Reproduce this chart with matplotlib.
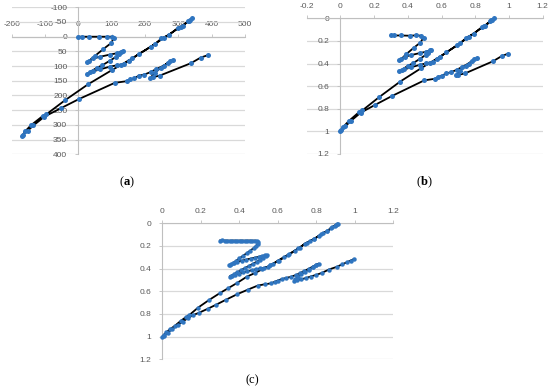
import matplotlib
matplotlib.use('Agg')
import matplotlib.pyplot as plt

plt.rcParams['mathtext.fontset'] = 'custom'
plt.rcParams['mathtext.rm'] = 'Liberation Serif'
plt.rcParams['mathtext.bf'] = 'Liberation Serif:bold'

# ---------------- (a) raw trajectory ----------------
a_x = [0, 10, 33, 61, 85, 100, 106, 98, 75, 50, 32, 25,
       45, 66, 94, 117, 128, 133,
       122, 114, 94, 72, 55, 35, 27,
       44, 66, 94, 117, 138, 151,
       183, 229, 249, 273, 300, 313, 328, 335, 341,
       332, 307, 257, 217, 161, 128, 100, 29, -41, -96, -106, -142, -159, -169,
       -166, -152, -135, -102, -52, 2, 109, 147, 156, 167, 182, 198, 217, 234, 257, 276, 284,
       268, 248, 230, 216,
       223, 245, 338, 367, 388]
a_y = [0, 0, 0, 0, 0, 0, 6, 22, 42, 65, 82, 87,
       74, 68, 61, 56, 51, 49,
       60, 68, 82, 97, 106, 120, 126,
       118, 111, 102, 97, 92, 82,
       58, 26, 6, -7, -31, -35, -52, -57, -63,
       -55, -34, 4, 34, 74, 96, 114, 162, 217, 264, 269, 301, 321, 338,
       334, 320, 302, 272, 243, 212, 157, 151, 145, 142, 132, 129, 120, 110, 98, 82, 80,
       90, 105, 122, 140,
       138, 132, 90, 71, 63]

# ---------------- (b) normalised trajectory ----------------
b_x = [0.300, 0.318, 0.358, 0.411, 0.450, 0.480, 0.493, 0.474, 0.434, 0.390, 0.360, 0.346,
       0.383, 0.420, 0.470, 0.510, 0.530, 0.540,
       0.520, 0.505, 0.470, 0.430, 0.400, 0.365, 0.350,
       0.380, 0.420, 0.470, 0.510, 0.548, 0.572,
       0.629, 0.711, 0.747, 0.790, 0.837, 0.860, 0.888, 0.900, 0.910,
       0.895, 0.850, 0.760, 0.690, 0.590, 0.530, 0.480, 0.354, 0.228, 0.130, 0.112, 0.049, 0.018, 0.000,
       0.006, 0.030, 0.060, 0.120, 0.208, 0.306, 0.497, 0.564, 0.580, 0.600, 0.627, 0.655, 0.690, 0.720, 0.760, 0.795, 0.808,
       0.780, 0.745, 0.712, 0.688,
       0.700, 0.740, 0.905, 0.957, 0.994]
b_y = [0.150, 0.152, 0.152, 0.154, 0.151, 0.154, 0.172, 0.215, 0.262, 0.318, 0.362, 0.372,
       0.340, 0.325, 0.308, 0.295, 0.283, 0.278,
       0.305, 0.325, 0.360, 0.398, 0.420, 0.455, 0.470,
       0.452, 0.433, 0.412, 0.398, 0.385, 0.360,
       0.301, 0.221, 0.171, 0.139, 0.080, 0.070, 0.027, 0.015, 0.000,
       0.018, 0.072, 0.165, 0.240, 0.340, 0.395, 0.440, 0.560, 0.699, 0.815, 0.828, 0.909, 0.959, 1.000,
       0.990, 0.955, 0.910, 0.835, 0.764, 0.687, 0.549, 0.534, 0.518, 0.510, 0.487, 0.478, 0.455, 0.432, 0.400, 0.362, 0.355,
       0.380, 0.418, 0.462, 0.505,
       0.500, 0.487, 0.380, 0.334, 0.313]

# ---------------- (c) normalised, densely sampled ----------------
c_x = [0.300, 0.312, 0.325, 0.338, 0.351, 0.364, 0.377, 0.390, 0.403, 0.416, 0.429, 0.442, 0.455, 0.468, 0.480, 0.490,
       0.497, 0.496, 0.488,
       0.475, 0.458, 0.440, 0.420, 0.400, 0.382, 0.366, 0.354, 0.348,
       0.358, 0.372, 0.390, 0.412, 0.436, 0.460, 0.482, 0.502, 0.520, 0.535, 0.542,
       0.538, 0.525, 0.510, 0.492, 0.470, 0.448, 0.428, 0.408, 0.390, 0.372, 0.358, 0.350,
       0.362, 0.378, 0.398, 0.420, 0.442, 0.465, 0.488, 0.510, 0.530, 0.548, 0.562, 0.574,
       0.600, 0.630, 0.660, 0.690, 0.715, 0.740, 0.765, 0.790, 0.812, 0.835, 0.858, 0.878, 0.895, 0.905, 0.912,
       0.900, 0.880, 0.855, 0.825, 0.790, 0.750, 0.705, 0.655, 0.605, 0.560, 0.520, 0.480, 0.440, 0.390, 0.340,
       0.300, 0.240, 0.185, 0.140, 0.125, 0.095, 0.065, 0.040, 0.020, 0.008, 0.000,
       0.010, 0.028, 0.050, 0.080, 0.105, 0.135, 0.160, 0.190, 0.235, 0.280, 0.330, 0.390, 0.445, 0.495,
       0.535, 0.565, 0.585, 0.600, 0.620, 0.645, 0.668, 0.692, 0.715, 0.738, 0.760, 0.782, 0.800, 0.812,
       0.800, 0.782, 0.762, 0.742, 0.722, 0.705, 0.690, 0.685,
       0.700, 0.720, 0.745, 0.770, 0.800, 0.830, 0.865, 0.905, 0.935, 0.958, 0.978, 0.995]
c_y = [0.152, 0.151, 0.152, 0.152, 0.153, 0.152, 0.152, 0.153, 0.152, 0.152, 0.153, 0.152, 0.152, 0.153, 0.152, 0.155,
       0.165, 0.180, 0.198,
       0.218, 0.240, 0.262, 0.287, 0.310, 0.333, 0.352, 0.366, 0.372,
       0.362, 0.350, 0.340, 0.330, 0.320, 0.311, 0.303, 0.296, 0.288, 0.281, 0.278,
       0.290, 0.303, 0.320, 0.338, 0.358, 0.378, 0.397, 0.414, 0.432, 0.450, 0.463, 0.470,
       0.462, 0.453, 0.444, 0.434, 0.425, 0.414, 0.405, 0.398, 0.392, 0.384, 0.372, 0.358,
       0.330, 0.300, 0.270, 0.240, 0.215, 0.180, 0.160, 0.138, 0.112, 0.085, 0.068, 0.045, 0.025, 0.010, 0.002,
       0.015, 0.035, 0.070, 0.098, 0.135, 0.172, 0.222, 0.280, 0.330, 0.372, 0.405, 0.440, 0.470, 0.525, 0.575,
       0.615, 0.680, 0.745, 0.810, 0.825, 0.862, 0.905, 0.935, 0.962, 0.985, 1.000,
       0.990, 0.965, 0.935, 0.898, 0.868, 0.835, 0.810, 0.790, 0.755, 0.718, 0.675, 0.625, 0.585, 0.550,
       0.537, 0.530, 0.515, 0.505, 0.492, 0.482, 0.472, 0.458, 0.440, 0.420, 0.402, 0.382, 0.365, 0.356,
       0.368, 0.388, 0.408, 0.428, 0.450, 0.472, 0.495, 0.508,
       0.502, 0.495, 0.484, 0.470, 0.455, 0.437, 0.408, 0.385, 0.362, 0.345, 0.330, 0.316]

a_xticks = [-200, -100, 0, 100, 200, 300, 400, 500]
a_xlabels = ['-200', '-100', '0', '100', '200', '300', '400', '500']
a_yticks = [-100, -50, 0, 50, 100, 150, 200, 250, 300, 350, 400]
a_ylabels = ['-100', '-50', '0', '50', '100', '150', '200', '250', '300', '350', '400']
b_xticks = [-0.2, 0, 0.2, 0.4, 0.6, 0.8, 1.0, 1.2]
b_xlabels = ['-0.2', '0', '0.2', '0.4', '0.6', '0.8', '1', '1.2']
n_yticks = [0, 0.2, 0.4, 0.6, 0.8, 1.0, 1.2]
n_ylabels = ['0', '0.2', '0.4', '0.6', '0.8', '1', '1.2']
c_xticks = [0, 0.2, 0.4, 0.6, 0.8, 1.0, 1.2]
c_xlabels = ['0', '0.2', '0.4', '0.6', '0.8', '1', '1.2']
captions = [r'($\mathbf{a}$)', r'($\mathbf{b}$)', '(c)']

LINE = 'black'
MARK = '#2f75c0'
GRID = '#d9d9d9'
AXC = '#bfbfbf'
TXT = '#595959'

fig = plt.figure(figsize=(5.5, 3.9), dpi=100)


def make(rect, xs, ys, xlim, ylim, xt, xl, yt, yl, ms):
    ax = fig.add_axes(rect)
    ax.patch.set_visible(False)
    ax.set_xlim(*xlim)
    ax.set_ylim(*ylim)
    ax.set_xticks(xt)
    ax.set_xticklabels(xl)
    ax.set_yticks(yt)
    ax.set_yticklabels(yl)
    ax.xaxis.tick_top()
    ax.spines['top'].set_position(('data', 0))
    ax.spines['left'].set_position(('data', 0))
    ax.spines['right'].set_visible(False)
    ax.spines['bottom'].set_visible(False)
    for s in ('top', 'left'):
        ax.spines[s].set_color(AXC)
        ax.spines[s].set_linewidth(0.8)
        ax.spines[s].set_zorder(1)
    ax.grid(axis='y', color=GRID, lw=0.9)
    ax.grid(axis='x', visible=False)
    ax.set_axisbelow(True)
    ax.tick_params(colors=TXT, labelsize=6.0, length=2.5, width=0.6)
    ax.tick_params(axis='y', pad=5.5)
    ax.tick_params(axis='x', pad=3.5)
    ax.tick_params(axis='both', color=AXC)
    for lab in ax.get_xticklabels() + ax.get_yticklabels():
        lab.set_family('Liberation Sans')
    ax.plot(xs, ys, color=LINE, lw=1.3, marker='o', ms=ms, mfc=MARK, mec=MARK,
            mew=0, zorder=3, clip_on=False)
    return ax


make([11.7 / 550, 1 - 154.3 / 390, 233.3 / 550, 147 / 390], a_x, a_y,
     (-200, 500), (400, -100), a_xticks, a_xlabels, a_yticks, a_ylabels, 3.6)
make([306.7 / 550, 1 - 154 / 390, 236 / 550, 135.7 / 390], b_x, b_y,
     (-0.2, 1.2), (1.2, 0), b_xticks, b_xlabels, n_yticks, n_ylabels, 3.6)
make([162.3 / 550, 1 - 359.3 / 390, 231 / 550, 136 / 390], c_x, c_y,
     (0, 1.2), (1.2, 0), c_xticks, c_xlabels, n_yticks, n_ylabels, 3.2)

cap_pos = [(127 / 550, 1 - 182 / 390), (424 / 550, 1 - 182 / 390), (252 / 550, 1 - 380 / 390)]
for (cx, cy), t in zip(cap_pos, captions):
    fig.text(cx, cy, t, ha='center', va='center', fontsize=9,
             family='Liberation Serif', color='black')

fig.savefig('out.png', dpi=100)
